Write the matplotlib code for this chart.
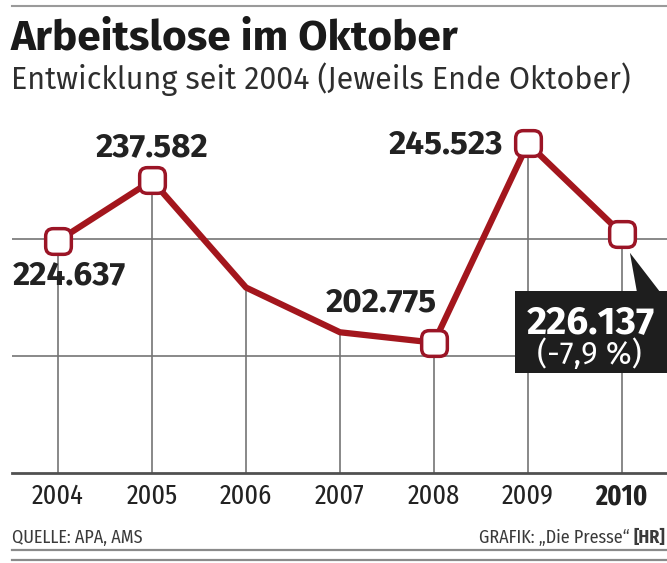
import matplotlib
matplotlib.use("Agg")
import matplotlib.pyplot as plt
from matplotlib.patches import BoxStyle, Rectangle, Polygon
from matplotlib.lines import Line2D
from matplotlib.markers import MarkerStyle

# Arbeitslose Ende Oktober, in Tausend
years = [2004, 2005, 2006, 2007, 2008, 2009, 2010]
values = [224.637, 237.582, 214.6, 205.0, 202.775, 245.523, 226.137]
gridlines = [200, 225]
year_labels = [str(y) for y in years]

RED = "#a3161d"
GRID = "#747474"
TXT = "#222222"
BOLD = ["Fira Sans", "Liberation Sans", "DejaVu Sans"]
COND = ["Fira Sans Condensed", "Roboto Condensed", "DejaVu Sans"]
XCOND = ["Fira Sans Extra Condensed", "Roboto Condensed", "DejaVu Sans"]

W, H = 667, 563
fig = plt.figure(figsize=(W / 100, H / 100), dpi=100)
ax = fig.add_axes([12 / W, (H - 473) / H, 655 / W, (473 - 110) / H])
ax.set_xlim(2003.51, 2010.48)
ax.set_ylim(174.8, 252.7)

for s in ["top", "left", "right"]:
    ax.spines[s].set_visible(False)
ax.spines["bottom"].set_color("#505050")
ax.spines["bottom"].set_linewidth(2.0)
ax.set_yticks([])
ax.set_xticks(years)
ax.set_xticklabels(year_labels, family=XCOND, fontsize=20.5, color=TXT)
ax.get_xticklabels()[-1].set_fontweight("bold")
ax.tick_params(axis="x", length=0, pad=7)

for g in gridlines:
    ax.axhline(g, color=GRID, lw=1.2, zorder=1)
ax.vlines(years, 174.8, values, color=GRID, lw=1.2, zorder=1)

ax.plot(years, values, color=RED, lw=4.5, solid_joinstyle="round",
        solid_capstyle="round", zorder=3)

# rounded square markers on the labelled years
rsq = BoxStyle.Round(pad=0, rounding_size=0.3)(-0.5, -0.5, 1, 1, 1.0)
mk = [0, 1, 4, 5, 6]
ax.plot([years[i] for i in mk], [values[i] for i in mk], ls="none",
        marker=MarkerStyle(rsq), markersize=18.5, markerfacecolor="white",
        markeredgecolor="#9b1526", markeredgewidth=2.5, zorder=4)

def fmt(v):
    return f"{v:.3f}"

# value labels: index, offset in points, alignment
label_pos = [(0, (8, -25), "center"), (1, (0, 24), "center"),
             (4, (-38, 29), "center"), (5, (-18, -1), "right")]
for i, (dx, dy), ha in label_pos:
    ax.annotate(fmt(values[i]), (years[i], values[i]), xytext=(dx, dy),
                textcoords="offset points", ha=ha, va="center",
                fontsize=24, fontweight="bold", family=BOLD, color=TXT,
                zorder=5)

# callout box for the latest value
fig.canvas.draw()
px, py = ax.transData.transform((years[-1], values[-1]))
box = Rectangle((px - 107, py - 139), 200, 82, facecolor="#1e1e1e",
                edgecolor="none", transform=None, zorder=6)
fig.patches.append(box)
ptr = Polygon([(px + 8, py - 19), (px + 15, py - 58), (px + 38, py - 58)],
              closed=True, facecolor="#1e1e1e", edgecolor="none",
              transform=None, zorder=6)
fig.patches.append(ptr)
change = (values[-1] / values[-2] - 1) * 100
fig.text((px - 31) / W, (py - 89) / H, fmt(values[-1]), ha="center",
         va="center", fontsize=28, fontweight="bold", family=BOLD,
         color="white", zorder=7)
fig.text((px - 33) / W, (py - 121) / H,
         "(" + f"{change:.1f}".replace(".", ",") + " %)", ha="center",
         va="center", fontsize=22.5, family=BOLD, color="white", zorder=7)

# header
fig.add_artist(Line2D([12 / W, 1], [(H - 6) / H] * 2, color="#9a9a9a", lw=1.5))
fig.text(11 / W, (H - 38) / H, "Arbeitslose im Oktober", ha="left",
         va="center", fontsize=30.5, fontweight="bold", family=BOLD,
         color="#1a1a1a")
fig.text(11 / W, (H - 79) / H, "Entwicklung seit 2004 (Jeweils Ende Oktober)",
         ha="left", va="center", fontsize=22, family=BOLD, color="#2e2e2e")

# footer
fy = (H - 538) / H
fig.text(12 / W, fy, "QUELLE: APA, AMS", ha="left", va="center",
         fontsize=13, family=COND, color="#3a3a3a")
hr = fig.text(1 - 2 / W, fy, "[HR]", ha="right", va="center",
              fontsize=13, fontweight="bold", family=COND, color="#3a3a3a")
hr_box = hr.get_window_extent(fig.canvas.get_renderer())
fig.text((hr_box.x0 - 4) / W, fy, "GRAFIK: \u201eDie Presse\u201c", ha="right",
         va="center", fontsize=13, family=COND, color="#3a3a3a")
fig.add_artist(Line2D([12 / W, 1], [(H - 550) / H] * 2, color="#8a8a8a", lw=1.6))
fig.add_artist(Line2D([12 / W, 1], [(H - 560) / H] * 2, color="#8a8a8a", lw=1.6))

fig.savefig("out.png", dpi=100)
